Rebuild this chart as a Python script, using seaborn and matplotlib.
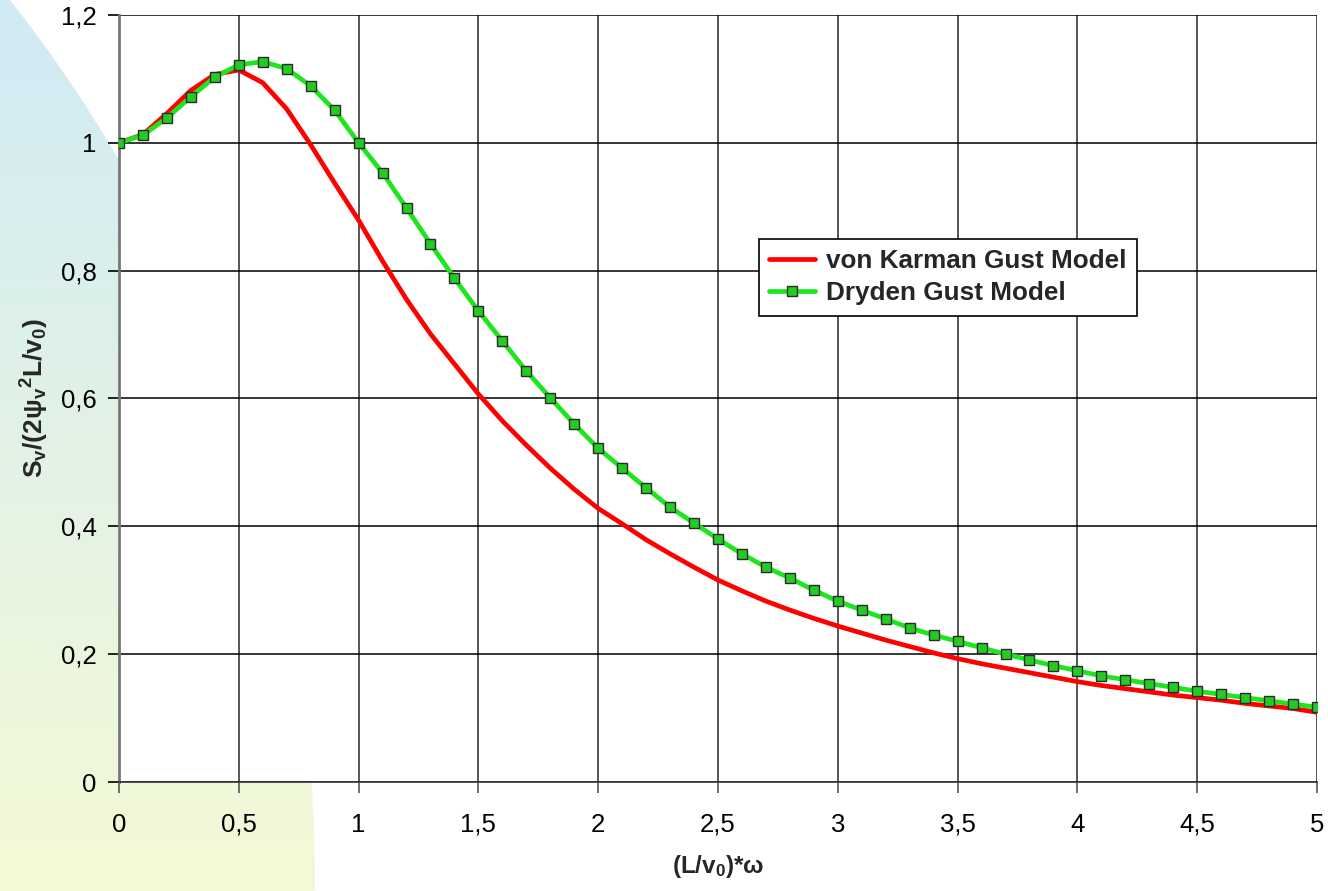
import numpy as np
import pandas as pd
import seaborn as sns
import matplotlib.pyplot as plt
from matplotlib.patches import Circle
from matplotlib.ticker import FuncFormatter, MultipleLocator

# ===================== data =====================
omega = [round(0.1 * i, 1) for i in range(51)]

karman = [1.000, 1.013, 1.046, 1.082, 1.107, 1.114, 1.094, 1.053, 0.997, 0.937,
          0.879, 0.815, 0.755, 0.701, 0.654, 0.607, 0.565, 0.527, 0.491, 0.458,
          0.428, 0.404, 0.379, 0.357, 0.336, 0.316, 0.299, 0.283, 0.269, 0.256,
          0.244, 0.233, 0.222, 0.212, 0.202, 0.193, 0.185, 0.178, 0.171, 0.164,
          0.157, 0.151, 0.146, 0.141, 0.136, 0.132, 0.128, 0.123, 0.119, 0.115,
          0.109]

dryden = [1.000, 1.012, 1.039, 1.072, 1.103, 1.122, 1.127, 1.116, 1.089, 1.051,
          1.000, 0.953, 0.898, 0.842, 0.788, 0.737, 0.690, 0.643, 0.601, 0.560,
          0.522, 0.491, 0.460, 0.430, 0.405, 0.380, 0.357, 0.336, 0.319, 0.300,
          0.283, 0.269, 0.255, 0.241, 0.230, 0.220, 0.210, 0.200, 0.191, 0.182,
          0.174, 0.166, 0.160, 0.154, 0.148, 0.142, 0.137, 0.132, 0.127, 0.122,
          0.117]

series_names = ["von Karman Gust Model", "Dryden Gust Model"]

df = pd.DataFrame({"omega": omega, "karman": karman, "dryden": dryden})

# ===================== style =====================
sns.set_theme(style="white")
plt.rcParams["font.family"] = ["Liberation Sans", "DejaVu Sans"]
plt.rcParams["mathtext.fontset"] = "custom"
plt.rcParams["mathtext.rm"] = "Liberation Sans:bold"
plt.rcParams["mathtext.it"] = "Liberation Sans:bold"
plt.rcParams["mathtext.bf"] = "Liberation Sans:bold"

W, H = 1328, 891
fig = plt.figure(figsize=(W / 100, H / 100), dpi=100)
fig.patch.set_facecolor("white")

# ===================== background arc =====================
bg = fig.add_axes([0, 0, 1, 1], zorder=0)
bg.set_xlim(0, W)
bg.set_ylim(H, 0)
bg.axis("off")
top_col = np.array([208, 234, 245]) / 255
bot_col = np.array([244, 250, 214]) / 255
t = np.linspace(0, 1, 256)[:, None]
grad = (1 - t) * top_col + t * bot_col
grad = np.repeat(grad[:, None, :], 2, axis=1)
img = bg.imshow(grad, extent=[0, W, H, 0], aspect="auto", interpolation="bilinear")
arc = Circle((-1113, 882), 1428, transform=bg.transData)
img.set_clip_path(arc)

# ===================== main plot =====================
ax = fig.add_axes([119 / W, 1 - 782 / H, (1317 - 119) / W, (782 - 15) / H], zorder=1)
ax.set_facecolor("white")

sns.lineplot(data=df, x="omega", y="karman", ax=ax, color="#ff0000", lw=3.4,
             label=series_names[0], zorder=3)
sns.lineplot(data=df, x="omega", y="dryden", ax=ax, color="#1ee61e", lw=3.4,
             marker="s", markersize=7.5, markerfacecolor="#22cc22",
             markeredgecolor="#2a2a2a", markeredgewidth=1.0,
             label=series_names[1], zorder=4)

ax.set_xlim(0, 5)
ax.set_ylim(0, 1.2)
ax.xaxis.set_major_locator(MultipleLocator(0.5))
ax.yaxis.set_major_locator(MultipleLocator(0.2))
comma = FuncFormatter(lambda v, p: f"{v:g}".replace(".", ","))
ax.xaxis.set_major_formatter(comma)
ax.yaxis.set_major_formatter(comma)

ax.grid(True, axis="y", color="black", lw=1.1)
ax.grid(True, axis="x", color="#555555", lw=1.4)
ax.set_axisbelow(True)

for side in ["top", "right"]:
    ax.spines[side].set_visible(False)
ax.spines["left"].set_color("#777777")
ax.spines["left"].set_linewidth(2)
ax.spines["bottom"].set_color("#333333")
ax.spines["bottom"].set_linewidth(1.2)

ax.tick_params(axis="both", which="major", direction="out", length=8,
               width=1.2, labelsize=18.5, colors="black", pad=8, left=True, bottom=True)
ax.tick_params(axis="x", color="#555555", pad=14)

ax.set_xlabel(r"(L/v$_0$)*ω", fontsize=17.5, fontweight="bold", labelpad=12)
ax.set_ylabel(r"$S_{v}/(2\psi_{v}{}^{2}L/v_{0})$", fontsize=19, labelpad=7)

leg = ax.legend(loc="upper left", bbox_to_anchor=(759 / W, 1 - 239 / H),
                bbox_transform=fig.transFigure, borderaxespad=0,
                frameon=True, fancybox=False, shadow=False, framealpha=1,
                edgecolor="black", facecolor="white",
                prop={"weight": "bold", "size": 18.8},
                handlelength=1.75, handletextpad=0.4, borderpad=0.4,
                labelspacing=0.3)
leg.get_frame().set_linewidth(1.2)

fig.savefig("out.png", dpi=100, facecolor=fig.get_facecolor())
